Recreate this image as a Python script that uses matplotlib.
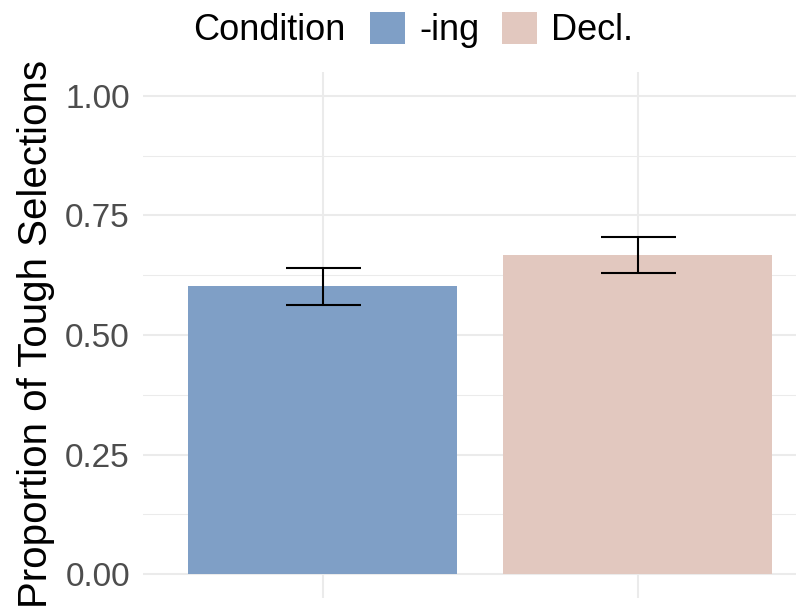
import matplotlib
matplotlib.use("Agg")
import matplotlib.pyplot as plt
from matplotlib.patches import Patch

# Data
conditions = ["-ing", "Decl."]
proportions = [0.6015, 0.667]
std_errors = [0.039, 0.037]
bar_colors = ["#7F9FC6", "#E2C8BF"]
y_ticks = [0.00, 0.25, 0.50, 0.75, 1.00]
y_tick_labels = ["0.00", "0.25", "0.50", "0.75", "1.00"]
y_minor_ticks = [0.125, 0.375, 0.625, 0.875]

plt.rcParams['font.family'] = ['Liberation Sans', 'DejaVu Sans']

W, H = 796, 609
fig = plt.figure(figsize=(W / 100, H / 100), dpi=100)
ax = fig.add_axes([143 / W, 1 - 598 / H, 1 - 143 / W, (598 - 72) / H])

x = list(range(1, len(conditions) + 1))
ax.bar(x, proportions, width=0.856, color=bar_colors, zorder=2)
ax.errorbar(x, proportions, yerr=std_errors, fmt='none', ecolor='black',
            elinewidth=1.5, capsize=27, capthick=1.5, zorder=3)

ax.set_xlim(0.4287, 2.5036)
ax.set_ylim(-0.05, 1.05)
ax.set_yticks(y_ticks, y_tick_labels)
ax.set_yticks(y_minor_ticks, minor=True)
ax.set_xticks(x, [])
ax.set_axisbelow(True)
ax.grid(which='major', color='#EBEBEB', lw=1.5)
ax.grid(which='minor', axis='y', color='#EBEBEB', lw=0.75)
ax.tick_params(which='both', length=0, labelsize=24, labelcolor='#4D4D4D', pad=9.4)
for s in ax.spines.values():
    s.set_visible(False)

# Axis title, centred on the panel
fig.text(36 / W, 1 - 334 / H, "Proportion of Tough Selections", rotation=90,
         fontsize=29, ha='center', va='center', color='black')

# Legend across the top, title to the left of the keys
fig.text(193 / W, 1 - 31 / H, "Condition", fontsize=26, ha='left', va='center')
handles = [Patch(facecolor=c, edgecolor='none') for c in bar_colors]
fig.legend(handles, conditions, ncol=2, loc='center left',
           bbox_to_anchor=(370 / W, 1 - 30 / H), frameon=False, fontsize=26,
           handlelength=0.97, handleheight=0.97, handletextpad=0.4,
           columnspacing=0.62, borderpad=0, borderaxespad=0)

fig.savefig("out.png", dpi=100)
